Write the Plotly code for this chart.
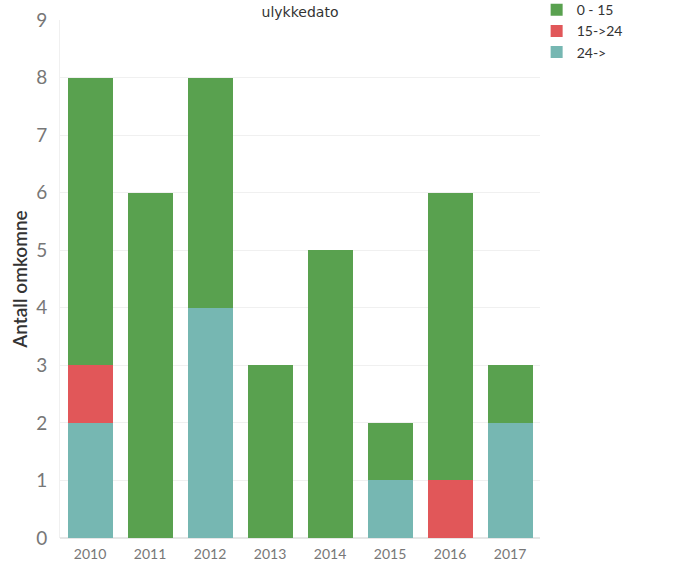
import plotly.graph_objects as go

years = ["2010", "2011", "2012", "2013", "2014", "2015", "2016", "2017"]
age_0_15 = [5, 6, 4, 3, 5, 1, 5, 1]
age_15_24 = [1, 0, 0, 0, 0, 0, 1, 0]
age_24_plus = [2, 0, 4, 0, 0, 1, 0, 2]
y_ticks = [0, 1, 2, 3, 4, 5, 6, 7, 8, 9]

fig = go.Figure()
fig.add_trace(go.Bar(x=years, y=age_24_plus, name="24->", marker_color="#76B7B2", marker_line_width=0))
fig.add_trace(go.Bar(x=years, y=age_15_24, name="15->24", marker_color="#E15759", marker_line_width=0))
fig.add_trace(go.Bar(x=years, y=age_0_15, name="0 - 15", marker_color="#59A14F", marker_line_width=0))

fig.update_layout(
    width=690, height=564,
    barmode="stack", bargap=0.25,
    margin=dict(l=60, r=150, t=20, b=26, autoexpand=False),
    plot_bgcolor="white", paper_bgcolor="white",
    font=dict(family="Lato", color="#666666"),
    title=dict(text="ulykkedato", x=300 / 690, xanchor="center", y=1 - 12 / 564, yanchor="middle",
               font=dict(family="DejaVu Sans", size=14, color="#333333")),
    legend=dict(x=0.993, xanchor="left", y=1.05, yanchor="top", traceorder="reversed",
                font=dict(family="Lato", size=14, color="#333333"), tracegroupgap=0,
                itemclick=False),
    showlegend=True,
)
fig.update_yaxes(range=[0, 9], tickvals=y_ticks, showgrid=True, gridcolor="#f0f0f0", gridwidth=1,
                 zeroline=True, zerolinecolor="#e6e6e6", showline=True, linecolor="#f0f0f0",
                 tickfont=dict(size=19, color="#777777"), ticks="", ticklabelstandoff=8,
                 automargin=False,
                 title=dict(text="Antall omkomne", font=dict(size=19, color="#333333", family="Lato", weight=600),
                            standoff=3))
fig.update_xaxes(showgrid=False, tickfont=dict(size=14, color="#777777"), ticks="", showline=False,
                 automargin=False, ticklabelstandoff=6)

fig.write_html("out.html", config={"displayModeBar": False},
               post_script="document.body.style.margin='0';")
